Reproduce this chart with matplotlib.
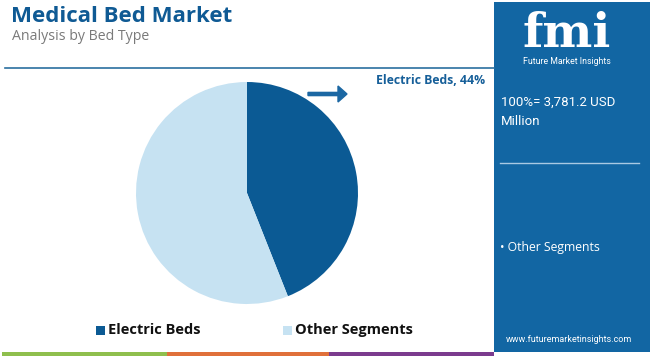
import matplotlib
matplotlib.use("Agg")
import matplotlib.pyplot as plt
from matplotlib.patches import Rectangle, FancyArrow

categories = ["Electric Beds", "Other Segments"]
shares = [44, 56]
colors = ["#0b5a94", "#c6e2f2"]
total_label = "100%= 3,781.2 USD\nMillion"

W, H = 650, 356
fig = plt.figure(figsize=(W / 100, H / 100), dpi=100)
fig.patch.set_facecolor("white")

def fx(x):
    return x / W

def fy(y):
    return 1 - y / H

FONT = "Roboto"
BOLD = "Open Sans"

# title
fig.text(fx(11), fy(17), "Medical Bed Market", fontsize=16, fontweight="bold",
         color="#0f5a94", family=BOLD, va="center", ha="left")
fig.text(fx(12), fy(37), "Analysis by Bed Type", fontsize=10.2,
         color="#7a7a7a", family="Open Sans", va="center", ha="left")

# divider line
fig.add_artist(plt.Line2D([fx(5), fx(494)], [fy(68), fy(68)], color="#2a6f9f", lw=1.2))

# right panel
fig.add_artist(Rectangle((fx(494), fy(352)), fx(156), 350 / H, transform=fig.transFigure,
                         facecolor="#1266a3", edgecolor="none"))
fig.text(fx(567), fy(34), "fmi", fontsize=34, fontweight="bold", color="white",
         family="DejaVu Serif", ha="center", va="center")
fig.text(fx(567), fy(62), "Future Market Insights", fontsize=6.3, color="white",
         family=FONT, ha="center", va="center")
fig.text(fx(501), fy(112), total_label, fontsize=9.5, color="white", family=FONT,
         ha="left", va="center", linespacing=1.6)
fig.add_artist(plt.Line2D([fx(500), fx(639)], [fy(163), fy(163)], color="#a9c9e3", lw=1))
fig.text(fx(500), fy(247), "• " + categories[1], fontsize=8.8, color="white", family="Open Sans",
         ha="left", va="center")
fig.text(fx(569), fy(340), "www.futuremarketinsights.com", fontsize=6.5, color="white",
         family=FONT, ha="center", va="center")

# bottom strip
strip = [(2, 167, "#8fbf4d"), (167, 329, "#e0703a"), (329, 494, "#7b3b8e")]
for x0, x1, c in strip:
    fig.add_artist(Rectangle((fx(x0), 0), fx(x1 - x0), 4 / H, transform=fig.transFigure,
                             facecolor=c, edgecolor="none"))

# pie
r = 111
cx, cy = 247, 193
ax = fig.add_axes([fx(cx - r), fy(cy + r), 2 * r / W, 2 * r / H])
ax.pie(shares, colors=colors, startangle=90, counterclock=False, radius=1,
       wedgeprops=dict(linewidth=0))
ax.set_xlim(-1, 1)
ax.set_ylim(-1, 1)
ax.set_aspect("auto")
ax.axis("off")

# arrow and label
fig.add_artist(FancyArrow(fx(308), fy(94), fx(30), 0, width=0.009, head_width=0.045,
                          head_length=fx(9), transform=fig.transFigure,
                          color="#1b67a3", length_includes_head=False))
fig.text(fx(485), fy(81), f"{categories[0]}, {shares[0]}%", fontsize=8.8, fontweight="bold",
         color="#165f99", family=BOLD, ha="right", va="center")

# legend
leg_x = [96, 283]
for x, c, lab in zip(leg_x, colors, categories):
    fig.add_artist(Rectangle((fx(x), fy(335)), fx(9), 9 / H, transform=fig.transFigure,
                             facecolor=c, edgecolor="none"))
    fig.text(fx(x + 12), fy(330), lab, fontsize=10.5, fontweight="bold", color="#111111",
             family=BOLD, ha="left", va="center")

fig.savefig("out.png", dpi=100, facecolor="white")
